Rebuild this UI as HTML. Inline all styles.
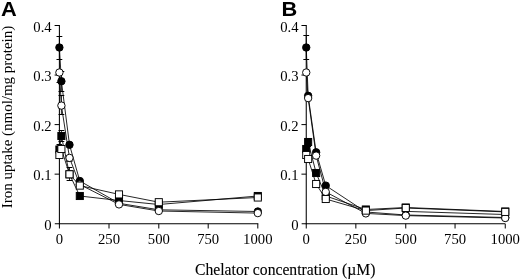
<!DOCTYPE html>
<html><head><meta charset="utf-8"><title>Figure</title>
<style>
html,body{margin:0;padding:0;background:#fff;}
body{width:520px;height:279px;overflow:hidden;}
svg{display:block}
.t{font-family:"Liberation Serif","Times New Roman",serif;font-size:14.7px;fill:#000}
.l{font-family:"Liberation Serif","Times New Roman",serif;font-size:16.5px;fill:#000;stroke:#000;stroke-width:0.12px}
.yl{font-family:"Liberation Serif","Times New Roman",serif;font-size:15.2px;fill:#000}
.p{font-family:"Liberation Sans",Arial,Helvetica,sans-serif;font-weight:bold;font-size:21px;fill:#000}
</style></head><body>
<svg width="520" height="279" viewBox="0 0 520 279">
<rect width="520" height="279" fill="#fff"/>
<text transform="translate(0.9,15.5) scale(1.04,1)" class="p">A</text>
<text transform="translate(281.6,15.5) scale(1.04,1)" class="p">B</text>
<text class="yl" transform="translate(11.9,208.2) rotate(-90)" textLength="182.4" lengthAdjust="spacingAndGlyphs">Iron uptake (nmol/mg protein)</text>
<text class="l" x="195.0" y="274.8" textLength="180.4" lengthAdjust="spacingAndGlyphs">Chelator concentration (µM)</text>
<line x1="59.40" y1="25.00" x2="59.40" y2="224.30" stroke="#000" stroke-width="1.05"/>
<line x1="54.80" y1="223.70" x2="258.30" y2="223.70" stroke="#000" stroke-width="1.05"/>
<line x1="54.60" y1="174.15" x2="59.40" y2="174.15" stroke="#000" stroke-width="1.0"/>
<line x1="54.60" y1="124.60" x2="59.40" y2="124.60" stroke="#000" stroke-width="1.0"/>
<line x1="54.60" y1="75.05" x2="59.40" y2="75.05" stroke="#000" stroke-width="1.0"/>
<line x1="54.60" y1="25.50" x2="59.40" y2="25.50" stroke="#000" stroke-width="1.0"/>
<line x1="109.00" y1="223.70" x2="109.00" y2="228.50" stroke="#000" stroke-width="1.0"/>
<line x1="158.80" y1="223.70" x2="158.80" y2="228.50" stroke="#000" stroke-width="1.0"/>
<line x1="208.20" y1="223.70" x2="208.20" y2="228.50" stroke="#000" stroke-width="1.0"/>
<line x1="257.80" y1="223.70" x2="257.80" y2="228.50" stroke="#000" stroke-width="1.0"/>
<line x1="59.40" y1="223.70" x2="59.40" y2="228.50" stroke="#000" stroke-width="1.0"/>
<text x="51.70" y="229.90" text-anchor="end" class="t">0</text>
<text x="51.70" y="180.35" text-anchor="end" class="t">0.1</text>
<text x="51.70" y="130.80" text-anchor="end" class="t">0.2</text>
<text x="51.70" y="81.25" text-anchor="end" class="t">0.3</text>
<text x="51.70" y="31.70" text-anchor="end" class="t">0.4</text>
<text x="59.40" y="244.3" text-anchor="middle" class="t">0</text>
<text x="109.00" y="244.3" text-anchor="middle" class="t">250</text>
<text x="158.80" y="244.3" text-anchor="middle" class="t">500</text>
<text x="208.20" y="244.3" text-anchor="middle" class="t">750</text>
<text x="257.80" y="244.3" text-anchor="middle" class="t">1000</text>
<line x1="59.40" y1="36.50" x2="59.40" y2="59.10" stroke="#000" stroke-width="0.85"/>
<line x1="56.50" y1="36.50" x2="62.30" y2="36.50" stroke="#000" stroke-width="1.0"/>
<line x1="56.50" y1="59.50" x2="62.30" y2="59.50" stroke="#000" stroke-width="1.0"/>
<line x1="59.40" y1="72.50" x2="59.40" y2="82.50" stroke="#000" stroke-width="0.85"/>
<line x1="56.50" y1="82.50" x2="62.30" y2="82.50" stroke="#000" stroke-width="1.0"/>
<line x1="61.40" y1="71.25" x2="61.40" y2="91.25" stroke="#000" stroke-width="0.85"/>
<line x1="58.50" y1="71.50" x2="64.30" y2="71.50" stroke="#000" stroke-width="1.0"/>
<line x1="58.50" y1="91.50" x2="64.30" y2="91.50" stroke="#000" stroke-width="1.0"/>
<line x1="61.40" y1="95.00" x2="61.40" y2="114.80" stroke="#000" stroke-width="0.85"/>
<line x1="58.50" y1="95.50" x2="64.30" y2="95.50" stroke="#000" stroke-width="1.0"/>
<line x1="58.50" y1="114.50" x2="64.30" y2="114.50" stroke="#000" stroke-width="1.0"/>
<line x1="61.40" y1="130.60" x2="61.40" y2="141.00" stroke="#000" stroke-width="0.85"/>
<line x1="58.50" y1="130.50" x2="64.30" y2="130.50" stroke="#000" stroke-width="1.0"/>
<line x1="58.50" y1="141.50" x2="64.30" y2="141.50" stroke="#000" stroke-width="1.0"/>
<line x1="69.50" y1="157.90" x2="69.50" y2="161.50" stroke="#000" stroke-width="0.85"/>
<line x1="66.60" y1="161.50" x2="72.40" y2="161.50" stroke="#000" stroke-width="1.0"/>
<line x1="69.50" y1="167.50" x2="69.50" y2="180.60" stroke="#000" stroke-width="0.85"/>
<line x1="66.60" y1="167.50" x2="72.40" y2="167.50" stroke="#000" stroke-width="1.0"/>
<line x1="66.60" y1="180.50" x2="72.40" y2="180.50" stroke="#000" stroke-width="1.0"/>
<line x1="59.40" y1="144.50" x2="59.40" y2="154.50" stroke="#000" stroke-width="0.85"/>
<line x1="56.50" y1="144.50" x2="62.30" y2="144.50" stroke="#000" stroke-width="1.0"/>
<line x1="56.50" y1="154.50" x2="62.30" y2="154.50" stroke="#000" stroke-width="1.0"/>
<line x1="59.40" y1="149.50" x2="61.40" y2="136.00" stroke="#000" stroke-width="0.85"/>
<line x1="61.40" y1="136.00" x2="69.50" y2="174.30" stroke="#000" stroke-width="0.85"/>
<line x1="69.50" y1="174.30" x2="79.80" y2="196.00" stroke="#000" stroke-width="0.85"/>
<line x1="79.80" y1="196.00" x2="119.00" y2="200.50" stroke="#000" stroke-width="0.85"/>
<line x1="119.00" y1="200.50" x2="158.80" y2="204.50" stroke="#000" stroke-width="0.85"/>
<line x1="158.80" y1="204.50" x2="257.80" y2="196.00" stroke="#000" stroke-width="0.85"/>
<line x1="59.40" y1="47.50" x2="61.40" y2="81.25" stroke="#000" stroke-width="0.85"/>
<line x1="61.40" y1="81.25" x2="69.50" y2="144.80" stroke="#000" stroke-width="0.85"/>
<line x1="69.50" y1="144.80" x2="79.80" y2="181.00" stroke="#000" stroke-width="0.85"/>
<line x1="79.80" y1="181.00" x2="119.00" y2="203.30" stroke="#000" stroke-width="0.85"/>
<line x1="119.00" y1="203.30" x2="158.80" y2="209.80" stroke="#000" stroke-width="0.85"/>
<line x1="158.80" y1="209.80" x2="257.80" y2="211.50" stroke="#000" stroke-width="0.85"/>
<line x1="59.40" y1="155.00" x2="61.40" y2="149.00" stroke="#000" stroke-width="0.85"/>
<line x1="61.40" y1="149.00" x2="69.50" y2="174.30" stroke="#000" stroke-width="0.85"/>
<line x1="69.50" y1="174.30" x2="79.80" y2="185.60" stroke="#000" stroke-width="0.85"/>
<line x1="79.80" y1="185.60" x2="119.00" y2="194.40" stroke="#000" stroke-width="0.85"/>
<line x1="119.00" y1="194.40" x2="158.80" y2="202.20" stroke="#000" stroke-width="0.85"/>
<line x1="158.80" y1="202.20" x2="257.80" y2="197.50" stroke="#000" stroke-width="0.85"/>
<line x1="59.40" y1="72.50" x2="61.40" y2="105.60" stroke="#000" stroke-width="0.85"/>
<line x1="61.40" y1="105.60" x2="69.50" y2="157.90" stroke="#000" stroke-width="0.85"/>
<line x1="69.50" y1="157.90" x2="79.80" y2="184.50" stroke="#000" stroke-width="0.85"/>
<line x1="79.80" y1="184.50" x2="119.00" y2="204.40" stroke="#000" stroke-width="0.85"/>
<line x1="119.00" y1="204.40" x2="158.80" y2="211.00" stroke="#000" stroke-width="0.85"/>
<line x1="158.80" y1="211.00" x2="257.80" y2="213.10" stroke="#000" stroke-width="0.85"/>
<rect x="55.85" y="145.95" width="7.1" height="7.1" fill="#000" stroke="#000" stroke-width="0.95"/>
<rect x="57.85" y="132.45" width="7.1" height="7.1" fill="#000" stroke="#000" stroke-width="0.95"/>
<rect x="65.95" y="170.75" width="7.1" height="7.1" fill="#000" stroke="#000" stroke-width="0.95"/>
<rect x="76.25" y="192.45" width="7.1" height="7.1" fill="#000" stroke="#000" stroke-width="0.95"/>
<rect x="115.45" y="196.95" width="7.1" height="7.1" fill="#000" stroke="#000" stroke-width="0.95"/>
<rect x="155.25" y="200.95" width="7.1" height="7.1" fill="#000" stroke="#000" stroke-width="0.95"/>
<rect x="254.25" y="192.45" width="7.1" height="7.1" fill="#000" stroke="#000" stroke-width="0.95"/>
<circle cx="59.40" cy="47.50" r="3.7" fill="#000" stroke="#000" stroke-width="0.95"/>
<circle cx="61.40" cy="81.25" r="3.7" fill="#000" stroke="#000" stroke-width="0.95"/>
<circle cx="69.50" cy="144.80" r="3.7" fill="#000" stroke="#000" stroke-width="0.95"/>
<circle cx="79.80" cy="181.00" r="3.7" fill="#000" stroke="#000" stroke-width="0.95"/>
<circle cx="119.00" cy="203.30" r="3.7" fill="#000" stroke="#000" stroke-width="0.95"/>
<circle cx="158.80" cy="209.80" r="3.7" fill="#000" stroke="#000" stroke-width="0.95"/>
<circle cx="257.80" cy="211.50" r="3.7" fill="#000" stroke="#000" stroke-width="0.95"/>
<circle cx="59.40" cy="72.50" r="3.7" fill="#fff" stroke="#000" stroke-width="0.95"/>
<circle cx="61.40" cy="105.60" r="3.7" fill="#fff" stroke="#000" stroke-width="0.95"/>
<circle cx="69.50" cy="157.90" r="3.7" fill="#fff" stroke="#000" stroke-width="0.95"/>
<circle cx="79.80" cy="184.50" r="3.7" fill="#fff" stroke="#000" stroke-width="0.95"/>
<circle cx="119.00" cy="204.40" r="3.7" fill="#fff" stroke="#000" stroke-width="0.95"/>
<circle cx="158.80" cy="211.00" r="3.7" fill="#fff" stroke="#000" stroke-width="0.95"/>
<circle cx="257.80" cy="213.10" r="3.7" fill="#fff" stroke="#000" stroke-width="0.95"/>
<rect x="55.85" y="151.45" width="7.1" height="7.1" fill="#fff" stroke="#000" stroke-width="0.95"/>
<rect x="57.85" y="145.45" width="7.1" height="7.1" fill="#fff" stroke="#000" stroke-width="0.95"/>
<rect x="65.95" y="170.75" width="7.1" height="7.1" fill="#fff" stroke="#000" stroke-width="0.95"/>
<rect x="76.25" y="182.05" width="7.1" height="7.1" fill="#fff" stroke="#000" stroke-width="0.95"/>
<rect x="115.45" y="190.85" width="7.1" height="7.1" fill="#fff" stroke="#000" stroke-width="0.95"/>
<rect x="155.25" y="198.65" width="7.1" height="7.1" fill="#fff" stroke="#000" stroke-width="0.95"/>
<rect x="254.25" y="193.95" width="7.1" height="7.1" fill="#fff" stroke="#000" stroke-width="0.95"/>
<line x1="306.25" y1="25.00" x2="306.25" y2="224.30" stroke="#000" stroke-width="1.05"/>
<line x1="301.65" y1="223.70" x2="505.15" y2="223.70" stroke="#000" stroke-width="1.05"/>
<line x1="301.45" y1="174.15" x2="306.25" y2="174.15" stroke="#000" stroke-width="1.0"/>
<line x1="301.45" y1="124.60" x2="306.25" y2="124.60" stroke="#000" stroke-width="1.0"/>
<line x1="301.45" y1="75.05" x2="306.25" y2="75.05" stroke="#000" stroke-width="1.0"/>
<line x1="301.45" y1="25.50" x2="306.25" y2="25.50" stroke="#000" stroke-width="1.0"/>
<line x1="355.85" y1="223.70" x2="355.85" y2="228.50" stroke="#000" stroke-width="1.0"/>
<line x1="405.75" y1="223.70" x2="405.75" y2="228.50" stroke="#000" stroke-width="1.0"/>
<line x1="455.05" y1="223.70" x2="455.05" y2="228.50" stroke="#000" stroke-width="1.0"/>
<line x1="505.25" y1="223.70" x2="505.25" y2="228.50" stroke="#000" stroke-width="1.0"/>
<line x1="306.25" y1="223.70" x2="306.25" y2="228.50" stroke="#000" stroke-width="1.0"/>
<text x="298.55" y="229.90" text-anchor="end" class="t">0</text>
<text x="298.55" y="180.35" text-anchor="end" class="t">0.1</text>
<text x="298.55" y="130.80" text-anchor="end" class="t">0.2</text>
<text x="298.55" y="81.25" text-anchor="end" class="t">0.3</text>
<text x="298.55" y="31.70" text-anchor="end" class="t">0.4</text>
<text x="306.25" y="244.3" text-anchor="middle" class="t">0</text>
<text x="355.85" y="244.3" text-anchor="middle" class="t">250</text>
<text x="405.75" y="244.3" text-anchor="middle" class="t">500</text>
<text x="455.05" y="244.3" text-anchor="middle" class="t">750</text>
<text x="505.25" y="244.3" text-anchor="middle" class="t">1000</text>
<line x1="306.25" y1="35.60" x2="306.25" y2="59.40" stroke="#000" stroke-width="0.85"/>
<line x1="303.35" y1="35.50" x2="309.15" y2="35.50" stroke="#000" stroke-width="1.0"/>
<line x1="303.35" y1="59.50" x2="309.15" y2="59.50" stroke="#000" stroke-width="1.0"/>
<line x1="308.15" y1="138.00" x2="308.15" y2="146.00" stroke="#000" stroke-width="0.85"/>
<line x1="305.25" y1="138.50" x2="311.05" y2="138.50" stroke="#000" stroke-width="1.0"/>
<line x1="305.25" y1="146.50" x2="311.05" y2="146.50" stroke="#000" stroke-width="1.0"/>
<line x1="306.25" y1="149.00" x2="308.15" y2="142.00" stroke="#000" stroke-width="0.85"/>
<line x1="308.15" y1="142.00" x2="316.15" y2="173.00" stroke="#000" stroke-width="0.85"/>
<line x1="316.15" y1="173.00" x2="325.75" y2="196.00" stroke="#000" stroke-width="0.85"/>
<line x1="325.75" y1="196.00" x2="365.85" y2="209.50" stroke="#000" stroke-width="0.85"/>
<line x1="365.85" y1="209.50" x2="405.75" y2="207.50" stroke="#000" stroke-width="0.85"/>
<line x1="405.75" y1="207.50" x2="505.25" y2="211.50" stroke="#000" stroke-width="0.85"/>
<line x1="306.25" y1="47.50" x2="308.15" y2="95.80" stroke="#000" stroke-width="0.85"/>
<line x1="308.15" y1="95.80" x2="316.15" y2="152.30" stroke="#000" stroke-width="0.85"/>
<line x1="316.15" y1="152.30" x2="325.75" y2="185.60" stroke="#000" stroke-width="0.85"/>
<line x1="325.75" y1="185.60" x2="365.85" y2="212.00" stroke="#000" stroke-width="0.85"/>
<line x1="365.85" y1="212.00" x2="405.75" y2="215.00" stroke="#000" stroke-width="0.85"/>
<line x1="405.75" y1="215.00" x2="505.25" y2="217.50" stroke="#000" stroke-width="0.85"/>
<line x1="306.25" y1="155.00" x2="308.15" y2="159.00" stroke="#000" stroke-width="0.85"/>
<line x1="308.15" y1="159.00" x2="316.15" y2="184.00" stroke="#000" stroke-width="0.85"/>
<line x1="316.15" y1="184.00" x2="325.75" y2="199.00" stroke="#000" stroke-width="0.85"/>
<line x1="325.75" y1="199.00" x2="365.85" y2="210.60" stroke="#000" stroke-width="0.85"/>
<line x1="365.85" y1="210.60" x2="405.75" y2="208.00" stroke="#000" stroke-width="0.85"/>
<line x1="405.75" y1="208.00" x2="505.25" y2="211.90" stroke="#000" stroke-width="0.85"/>
<line x1="306.25" y1="72.50" x2="308.15" y2="98.10" stroke="#000" stroke-width="0.85"/>
<line x1="308.15" y1="98.10" x2="316.15" y2="155.60" stroke="#000" stroke-width="0.85"/>
<line x1="316.15" y1="155.60" x2="325.75" y2="191.90" stroke="#000" stroke-width="0.85"/>
<line x1="325.75" y1="191.90" x2="365.85" y2="213.40" stroke="#000" stroke-width="0.85"/>
<line x1="365.85" y1="213.40" x2="405.75" y2="215.60" stroke="#000" stroke-width="0.85"/>
<line x1="405.75" y1="215.60" x2="505.25" y2="218.00" stroke="#000" stroke-width="0.85"/>
<rect x="302.70" y="145.45" width="7.1" height="7.1" fill="#000" stroke="#000" stroke-width="0.95"/>
<rect x="304.60" y="138.45" width="7.1" height="7.1" fill="#000" stroke="#000" stroke-width="0.95"/>
<rect x="312.60" y="169.45" width="7.1" height="7.1" fill="#000" stroke="#000" stroke-width="0.95"/>
<rect x="322.20" y="192.45" width="7.1" height="7.1" fill="#000" stroke="#000" stroke-width="0.95"/>
<rect x="362.30" y="205.95" width="7.1" height="7.1" fill="#000" stroke="#000" stroke-width="0.95"/>
<rect x="402.20" y="203.95" width="7.1" height="7.1" fill="#000" stroke="#000" stroke-width="0.95"/>
<rect x="501.70" y="207.95" width="7.1" height="7.1" fill="#000" stroke="#000" stroke-width="0.95"/>
<circle cx="306.25" cy="47.50" r="3.7" fill="#000" stroke="#000" stroke-width="0.95"/>
<circle cx="308.15" cy="95.80" r="3.7" fill="#000" stroke="#000" stroke-width="0.95"/>
<circle cx="316.15" cy="152.30" r="3.7" fill="#000" stroke="#000" stroke-width="0.95"/>
<circle cx="325.75" cy="185.60" r="3.7" fill="#000" stroke="#000" stroke-width="0.95"/>
<circle cx="365.85" cy="212.00" r="3.7" fill="#000" stroke="#000" stroke-width="0.95"/>
<circle cx="405.75" cy="215.00" r="3.7" fill="#000" stroke="#000" stroke-width="0.95"/>
<circle cx="505.25" cy="217.50" r="3.7" fill="#000" stroke="#000" stroke-width="0.95"/>
<circle cx="306.25" cy="72.50" r="3.7" fill="#fff" stroke="#000" stroke-width="0.95"/>
<circle cx="308.15" cy="98.10" r="3.7" fill="#fff" stroke="#000" stroke-width="0.95"/>
<circle cx="316.15" cy="155.60" r="3.7" fill="#fff" stroke="#000" stroke-width="0.95"/>
<circle cx="325.75" cy="191.90" r="3.7" fill="#fff" stroke="#000" stroke-width="0.95"/>
<circle cx="365.85" cy="213.40" r="3.7" fill="#fff" stroke="#000" stroke-width="0.95"/>
<circle cx="405.75" cy="215.60" r="3.7" fill="#fff" stroke="#000" stroke-width="0.95"/>
<circle cx="505.25" cy="218.00" r="3.7" fill="#fff" stroke="#000" stroke-width="0.95"/>
<rect x="302.70" y="151.45" width="7.1" height="7.1" fill="#fff" stroke="#000" stroke-width="0.95"/>
<rect x="304.60" y="155.45" width="7.1" height="7.1" fill="#fff" stroke="#000" stroke-width="0.95"/>
<rect x="312.60" y="180.45" width="7.1" height="7.1" fill="#fff" stroke="#000" stroke-width="0.95"/>
<rect x="322.20" y="195.45" width="7.1" height="7.1" fill="#fff" stroke="#000" stroke-width="0.95"/>
<rect x="362.30" y="207.05" width="7.1" height="7.1" fill="#fff" stroke="#000" stroke-width="0.95"/>
<rect x="402.20" y="204.45" width="7.1" height="7.1" fill="#fff" stroke="#000" stroke-width="0.95"/>
<rect x="501.70" y="208.35" width="7.1" height="7.1" fill="#fff" stroke="#000" stroke-width="0.95"/>
<line x1="409.75" y1="211.50" x2="501.25" y2="214.40" stroke="#000" stroke-width="0.85"/>
</svg>
</body></html>
